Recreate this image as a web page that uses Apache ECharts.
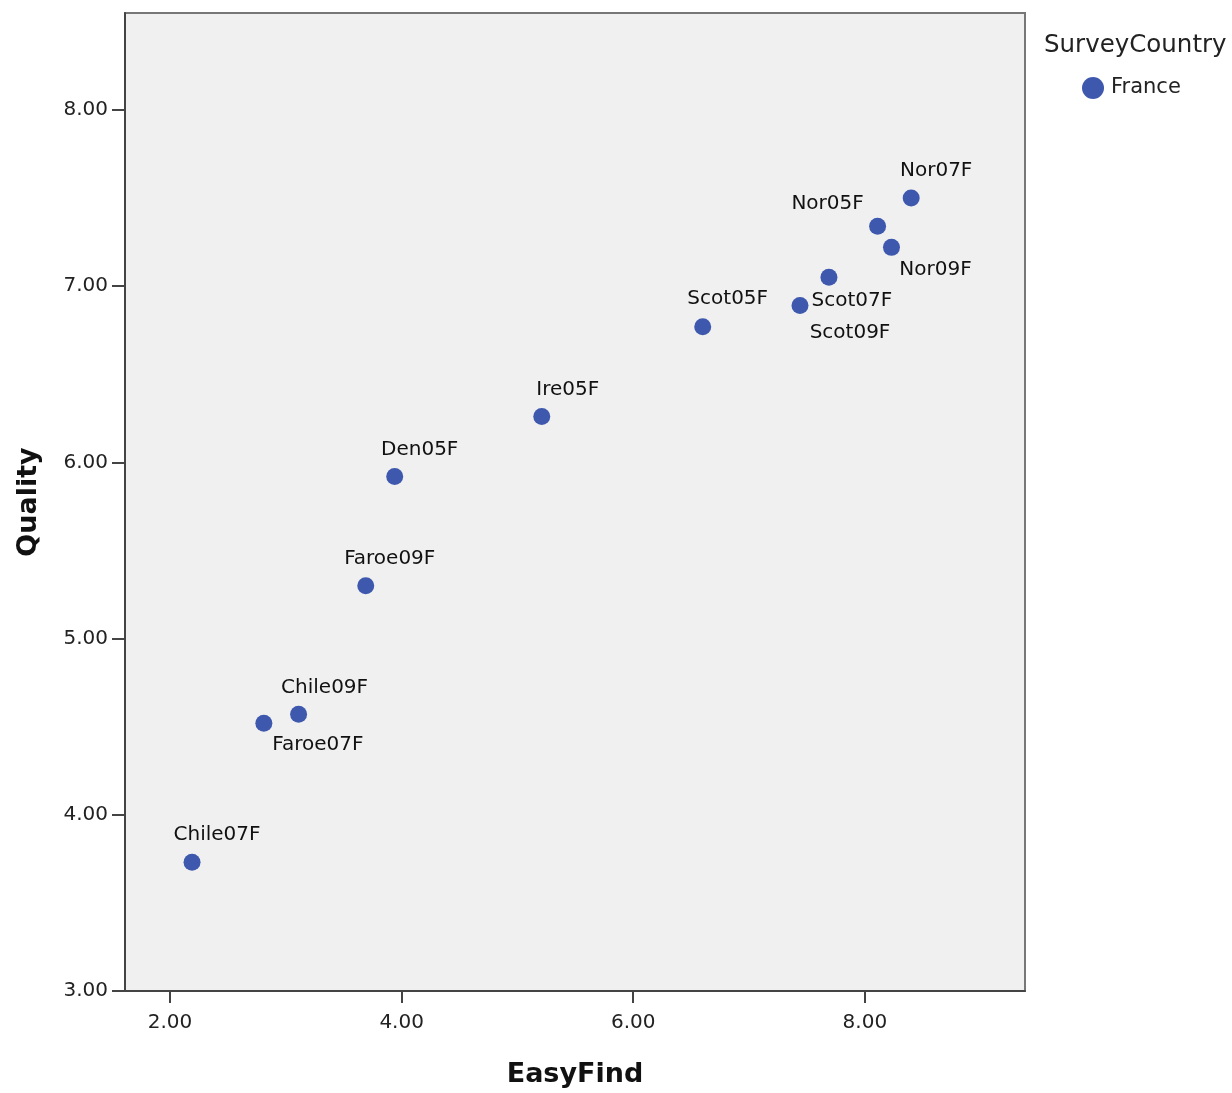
<!DOCTYPE html>
<html>
<head>
<meta charset="utf-8">
<script src="https://cdn.jsdelivr.net/npm/echarts@6/dist/echarts.min.js"></script>
<style>
html,body{margin:0;padding:0;background:#fff;}
#chart{width:1232px;height:1093px;}
</style>
</head>
<body>
<div id="chart"></div>
<script>
// ---- data ----
const pointNames = ['Nor07F','Nor05F','Nor09F','Scot07F','Scot09F','Scot05F','Ire05F','Den05F','Faroe09F','Chile09F','Faroe07F','Chile07F'];
const easyFind  = [8.40, 8.11, 8.23, 7.69, 7.44, 6.60, 5.21, 3.94, 3.69, 3.11, 2.81, 2.19];
const quality   = [7.50, 7.34, 7.22, 7.05, 6.89, 6.77, 6.26, 5.92, 5.30, 4.57, 4.52, 3.73];
const seriesName = 'France';
const legendTitle = 'SurveyCountry';
const xTicks = [2, 4, 6, 8];
const yTicks = [3, 4, 5, 6, 7, 8];

// ---- label placement (layout only) ----
const labelOffset = {
  Nor07F: [25, -27], Nor05F: [-50, -22], Nor09F: [44, 22], Scot07F: [23, 23],
  Scot09F: [50, 27], Scot05F: [25, -28], Ire05F: [26, -27], Den05F: [25, -27],
  Faroe09F: [24, -27], Chile09F: [26, -27], Faroe07F: [54, 22], Chile07F: [25, -28]
};

const FONT = 'DejaVu Sans';
const dotColor = '#3e58ae';

const seriesData = pointNames.map((n, i) => ({
  name: n,
  value: [easyFind[i], quality[i]],
  label: { offset: labelOffset[n] }
}));

const chart = echarts.init(document.getElementById('chart'), null, { renderer: 'canvas' });
chart.setOption({
  animation: false,
  backgroundColor: '#ffffff',
  title: {
    text: legendTitle,
    left: 1039, top: 28,
    textStyle: { fontFamily: FONT, fontSize: 24.5, fontWeight: 'normal', color: '#222' }
  },
  legend: {
    data: [seriesName],
    left: 1077, top: 72,
    icon: 'circle',
    itemWidth: 22, itemHeight: 22,
    itemGap: 4,
    textStyle: { fontFamily: FONT, fontSize: 21, color: '#222', padding: [8, 0, 0, 2] }
  },
  grid: {
    left: 125, right: 207, top: 13, bottom: 102,
    show: true, backgroundColor: '#f0f0f0', borderColor: '#777', borderWidth: 2
  },
  xAxis: {
    type: 'value',
    min: 1.611, max: 9.383,
    name: 'EasyFind',
    nameLocation: 'middle',
    nameGap: 70,
    nameTextStyle: { fontFamily: FONT, fontSize: 27, fontWeight: 'bold', color: '#111' },
    axisLine: { show: true, lineStyle: { color: '#444', width: 2 } },
    axisTick: { show: true, length: 12, customValues: xTicks, lineStyle: { color: '#444', width: 2 } },
    axisLabel: { customValues: xTicks, margin: 22, fontFamily: FONT, fontSize: 20, color: '#222',
      formatter: v => Number(v).toFixed(2) },
    splitLine: { show: false }
  },
  yAxis: {
    type: 'value',
    min: 3, max: 8.55,
    name: 'Quality',
    nameLocation: 'middle',
    nameGap: 83,
    nameRotate: 90,
    nameTextStyle: { fontFamily: FONT, fontSize: 27, fontWeight: 'bold', color: '#111' },
    axisLine: { show: true, lineStyle: { color: '#444', width: 2 } },
    axisTick: { show: true, length: 13, customValues: yTicks, lineStyle: { color: '#444', width: 2 } },
    axisLabel: { customValues: yTicks, margin: 17, fontFamily: FONT, fontSize: 20, color: '#222',
      formatter: v => Number(v).toFixed(2) },
    splitLine: { show: false }
  },
  series: [{
    name: seriesName,
    type: 'scatter',
    symbol: 'circle',
    symbolSize: 17,
    itemStyle: { color: dotColor, opacity: 1 },
    label: {
      show: true,
      position: 'inside',
      formatter: p => p.name,
      fontFamily: FONT, fontSize: 20, color: '#111'
    },
    data: seriesData
  }]
});
</script>
</body>
</html>
